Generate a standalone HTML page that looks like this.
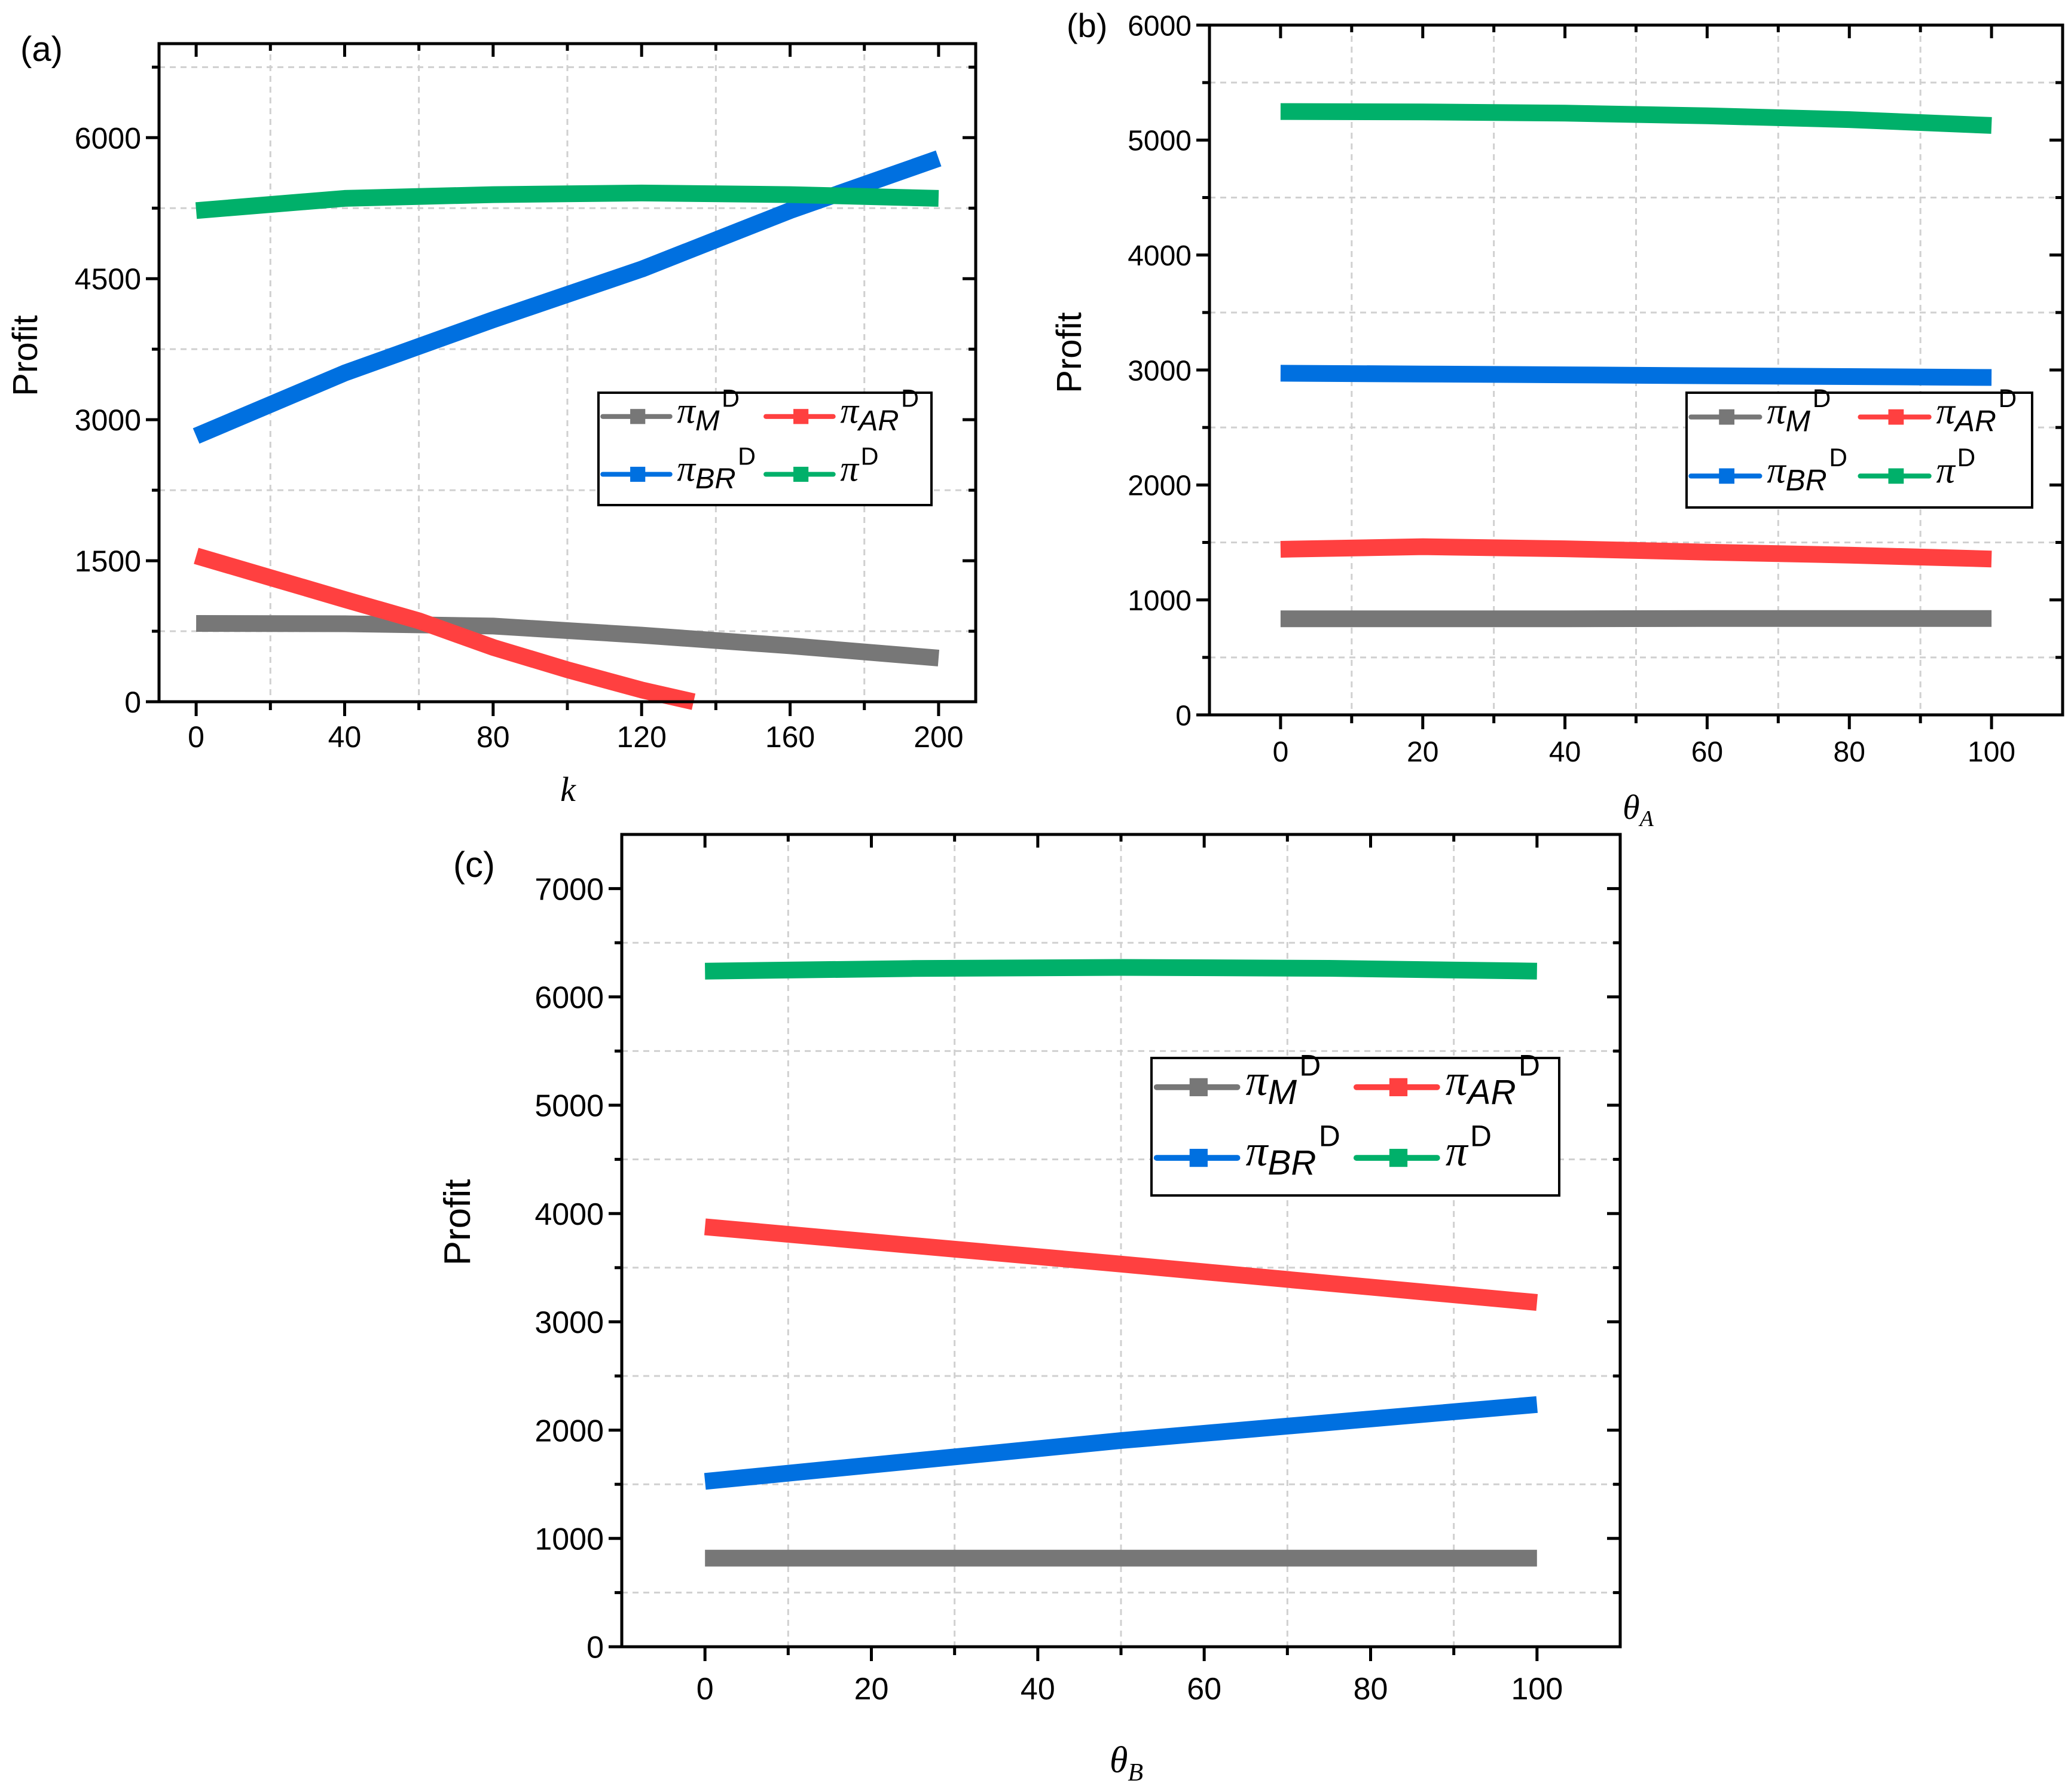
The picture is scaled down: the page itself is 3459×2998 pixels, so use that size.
<!DOCTYPE html>
<html><head><meta charset="utf-8">
<style>
html,body{margin:0;padding:0;background:#fff;}
svg{display:block;}
text{font-family:"Liberation Sans",sans-serif;}
</style></head>
<body>
<svg id="fig" width="3459" height="2998" viewBox="0 0 3459 2998" xmlns="http://www.w3.org/2000/svg"></svg>
<script>
// ---- Panel (a) data ----
const aX_M = [0, 40, 80, 120, 160, 200];
const aM = [833, 830, 805, 708, 595, 465];
const aX_AR = [0, 20, 40, 60, 80, 100, 120, 134];
const aAR = [1552, 1320, 1088, 861, 578, 340, 125, 0];
const aX_BR = [0, 40, 80, 120, 160, 200];
const aBR = [2827, 3496, 4063, 4601, 5224, 5779];
const aX_T = [0, 40, 80, 120, 160, 200];
const aT = [5224, 5354, 5394, 5411, 5394, 5354];
const aXTicks = ["0","40","80","120","160","200"];
const aYTicks = ["0","1500","3000","4500","6000"];
// ---- Panel (b) data ----
const bX = [0, 20, 40, 60, 80, 100];
const bM = [836, 836, 836, 838, 838, 838];
const bAR = [1440, 1463, 1445, 1416, 1390, 1356];
const bBR = [2972, 2965, 2958, 2950, 2943, 2935];
const bT = [5248, 5245, 5234, 5211, 5178, 5127];
const bXTicks = ["0","20","40","60","80","100"];
const bYTicks = ["0","1000","2000","3000","4000","5000","6000"];
// ---- Panel (c) data ----
const cX = [0, 25, 50, 75, 100];
const cM = [818, 818, 818, 818, 818];
const cAR = [3877, 3705, 3533, 3356, 3179];
const cBR = [1527, 1715, 1904, 2070, 2236];
const cT = [6238, 6262, 6272, 6264, 6238];
const cXTicks = ["0","20","40","60","80","100"];
const cYTicks = ["0","1000","2000","3000","4000","5000","6000","7000"];

const COL = {M:"#777777", AR:"#FF4040", BR:"#0070E0", TOT:"#00B06A"};
const NS = "http://www.w3.org/2000/svg";
const fig = document.getElementById('fig');
function mk(tag, attrs, parent){
  const e = document.createElementNS(NS, tag);
  for (const k in attrs) e.setAttribute(k, attrs[k]);
  (parent||fig).appendChild(e);
  return e;
}

function panel(cfg){
  const g = mk('g', {});
  
  
  const {L,R,T,B,x0,x1,y0,y1} = cfg;
  const sx = v => L + (v - x0) / (x1 - x0) * (R - L);
  const sy = v => B - (v - y0) / (y1 - y0) * (B - T);
  for (let v = cfg.xMinorStart; v < x1; v += cfg.xStep) {
    const ln = mk('line', {x1:sx(v), x2:sx(v), y1:T, y2:B, stroke:"#d0d0d0", 'stroke-width':3, 'stroke-dasharray':"10,8"}, g);
    
    
  }
  for (let v = y0 + cfg.yStep/2; v < y1; v += cfg.yStep) {
    const ln = mk('line', {x1:L, x2:R, y1:sy(v), y2:sy(v), stroke:"#d0d0d0", 'stroke-width':3, 'stroke-dasharray':"10,8"}, g);
    
    
  }
  const series = [
    ['M', cfg.xM, cfg.sM], ['AR', cfg.xAR, cfg.sAR], ['BR', cfg.xBR, cfg.sBR], ['TOT', cfg.xT, cfg.sT]
  ];
  series.forEach(([key, xs, ys]) => {
    const pts = xs.map((x,i) => sx(x).toFixed(1) + ',' + sy(ys[i]).toFixed(1)).join(' ');
    const pl = mk('polyline', {points:pts, fill:'none', stroke:COL[key], 'stroke-width':cfg.lw, 'stroke-linejoin':'round', 'stroke-linecap':'butt'}, g);
    
    
  });
  const fr = mk('rect', {x:L, y:T, width:R-L, height:B-T, fill:'none', stroke:'#000', 'stroke-width':5}, g);
  
  
  cfg.xTicks.forEach((lab) => {
    const v = parseFloat(lab), x = sx(v);
    mk('line', {x1:x, x2:x, y1:B, y2:B+24, stroke:'#000', 'stroke-width':5}, g);
    mk('line', {x1:x, x2:x, y1:T, y2:T+22, stroke:'#000', 'stroke-width':5}, g);
    const t = mk('text', {x:x, y:B+cfg.xLabOff, 'font-size':cfg.fs, 'text-anchor':'middle'}, g);
    t.textContent = lab;
    
    
  });
  for (let v = cfg.xMinorStart; v < x1; v += cfg.xStep) {
    mk('line', {x1:sx(v), x2:sx(v), y1:B, y2:B+14, stroke:'#000', 'stroke-width':5}, g);
    mk('line', {x1:sx(v), x2:sx(v), y1:T, y2:T+12, stroke:'#000', 'stroke-width':5}, g);
  }
  cfg.yTicks.forEach((lab) => {
    const v = parseFloat(lab), y = sy(v);
    mk('line', {x1:L-22, x2:L, y1:y, y2:y, stroke:'#000', 'stroke-width':5}, g);
    mk('line', {x1:R-22, x2:R, y1:y, y2:y, stroke:'#000', 'stroke-width':5}, g);
    const t = mk('text', {x:L-30, y:y+cfg.fs*0.36, 'font-size':cfg.fs, 'text-anchor':'end'}, g);
    t.textContent = lab;
    
    
  });
  for (let v = y0 + cfg.yStep/2; v < y1; v += cfg.yStep) {
    mk('line', {x1:L-12, x2:L, y1:sy(v), y2:sy(v), stroke:'#000', 'stroke-width':5}, g);
    mk('line', {x1:R-12, x2:R, y1:sy(v), y2:sy(v), stroke:'#000', 'stroke-width':5}, g);
  }
  const yt = mk('text', {x:0, y:0, 'font-size':cfg.tfs, 'text-anchor':'middle', transform:`translate(${cfg.ytX},${cfg.ytY}) rotate(-90)`}, g);
  yt.textContent = 'Profit';
  
  
  const xt = mk('text', {x:cfg.xtX, y:cfg.xtY, 'font-size':cfg.tfs, 'text-anchor':'middle', 'font-style':'italic', style:'font-family:"Liberation Serif",serif'}, g);
  xt.innerHTML = cfg.xTitle;
  
  
  const pl = mk('text', {x:cfg.plX, y:cfg.plY, 'font-size':cfg.fs+8}, g);
  pl.textContent = '(' + cfg.id + ')';
  
  
  const lg = mk('g', {}, g);
  
  
  const {lx, ly, lw2, lh} = cfg.leg;
  mk('rect', {x:lx, y:ly, width:lw2, height:lh, fill:'#fff', stroke:'#000', 'stroke-width':4}, lg);
  const ents = [['M','M',0,0],['AR','AR',1,0],['BR','BR',0,1],['TOT','',1,1]];
  const cw = lw2/2, rh = lh/2, s = cfg.ls;
  ents.forEach(([key, sub, c, r]) => {
    const e = mk('g', {}, lg);
    
    
    const bx = lx + 8*s + c*cw*0.98, by = ly + rh*(r+0.5) - 8*s + (r?3*s:0);
    mk('line', {x1:bx, x2:bx+125*s, y1:by, y2:by, stroke:COL[key], 'stroke-width':9*s, 'stroke-linecap':'round'}, e);
    mk('rect', {x:bx+65*s-14*s, y:by-14*s, width:28*s, height:28*s, fill:COL[key]}, e);
    const t = mk('text', {x:bx+138*s, y:by+12*s, 'font-size':54*s}, e);
    t.innerHTML = '<tspan font-style="italic" style="font-family:\'Liberation Serif\',serif" font-size="' + (68*s) + '">π</tspan>' +
      (sub ? '<tspan font-style="italic" dy="' + (14*s) + '">' + sub + '</tspan>' : '') +
      '<tspan dx="' + (4*s) + '" dy="' + (sub ? -44*s : -30*s) + '" font-size="' + (46*s) + '">D</tspan>';
  });
}

panel({id:'a', L:266, R:1632, T:73, B:1174, x0:-10, x1:210, y0:0, y1:7000,
  xStep:40, xMinorStart:20, yStep:1500, lw:28,
  xM:aX_M, sM:aM, xAR:aX_AR, sAR:aAR, xBR:aX_BR, sBR:aBR, xT:aX_T, sT:aT,
  xTicks:aXTicks, yTicks:aYTicks, fs:50, tfs:58, xLabOff:76,
  ytX:62, ytY:595, xtX:950, xtY:1340, xTitle:'k', plX:34, plY:102,
  leg:{lx:1001, ly:657, lw2:557, lh:188}, ls:0.9});
panel({id:'b', L:2023, R:3450, T:42, B:1196, x0:-10, x1:110, y0:0, y1:6000,
  xStep:20, xMinorStart:10, yStep:1000, lw:28,
  xM:bX, sM:bM, xAR:bX, sAR:bAR, xBR:bX, sBR:bBR, xT:bX, sT:bT,
  xTicks:bXTicks, yTicks:bYTicks, fs:48, tfs:58, xLabOff:78,
  ytX:1808, ytY:590, xtX:2740, xtY:1370, xTitle:'θ<tspan font-size="38" dy="12">A</tspan>', plX:1784, plY:62,
  leg:{lx:2821, ly:657, lw2:578, lh:192}, ls:0.92});
panel({id:'c', L:1040, R:2710, T:1396, B:2755, x0:-10, x1:110, y0:0, y1:7500,
  xStep:20, xMinorStart:10, yStep:1000, lw:28,
  xM:cX, sM:cM, xAR:cX, sAR:cAR, xBR:cX, sBR:cBR, xT:cX, sT:cT,
  xTicks:cXTicks, yTicks:cYTicks, fs:52, tfs:62, xLabOff:88,
  ytX:786, ytY:2045, xtX:1884, xtY:2965, xTitle:'θ<tspan font-size="42" dy="14">B</tspan>', plX:758, plY:1467,
  leg:{lx:1926, ly:1770, lw2:682, lh:230}, ls:1.08});
</script>
</body></html>
